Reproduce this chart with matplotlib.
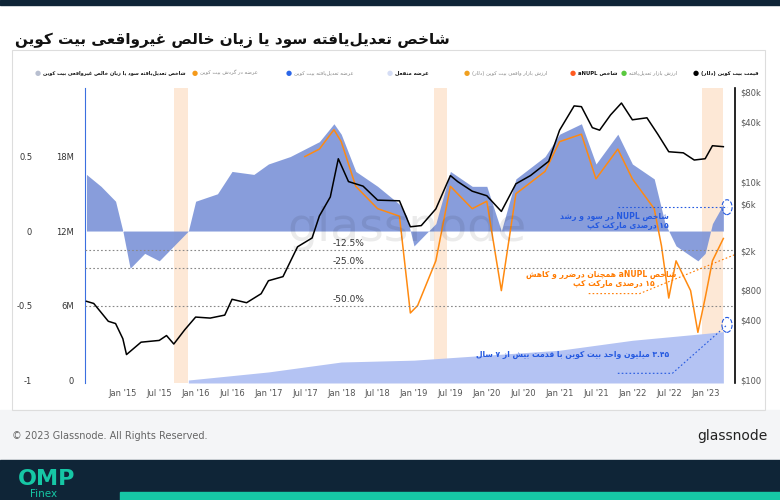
import matplotlib
matplotlib.use("Agg")
import matplotlib.pyplot as plt
import numpy as np
from matplotlib.patches import Rectangle, Ellipse

# ---------- simple Persian shaping ----------
F = {
 'ا':('\uFE8D','\uFE8E'),'آ':('\uFE81','\uFE82'),'د':('\uFEA9','\uFEAA'),'ذ':('\uFEAB','\uFEAC'),
 'ر':('\uFEAD','\uFEAE'),'ز':('\uFEAF','\uFEB0'),'ژ':('\uFB8A','\uFB8B'),'و':('\uFEED','\uFEEE'),
 'ب':('\uFE8F','\uFE90','\uFE91','\uFE92'),'پ':('\uFB56','\uFB57','\uFB58','\uFB59'),
 'ت':('\uFE95','\uFE96','\uFE97','\uFE98'),'ث':('\uFE99','\uFE9A','\uFE9B','\uFE9C'),
 'ج':('\uFE9D','\uFE9E','\uFE9F','\uFEA0'),'چ':('\uFB7A','\uFB7B','\uFB7C','\uFB7D'),
 'ح':('\uFEA1','\uFEA2','\uFEA3','\uFEA4'),'خ':('\uFEA5','\uFEA6','\uFEA7','\uFEA8'),
 'س':('\uFEB1','\uFEB2','\uFEB3','\uFEB4'),'ش':('\uFEB5','\uFEB6','\uFEB7','\uFEB8'),
 'ص':('\uFEB9','\uFEBA','\uFEBB','\uFEBC'),'ض':('\uFEBD','\uFEBE','\uFEBF','\uFEC0'),
 'ط':('\uFEC1','\uFEC2','\uFEC3','\uFEC4'),'ظ':('\uFEC5','\uFEC6','\uFEC7','\uFEC8'),
 'ع':('\uFEC9','\uFECA','\uFECB','\uFECC'),'غ':('\uFECD','\uFECE','\uFECF','\uFED0'),
 'ف':('\uFED1','\uFED2','\uFED3','\uFED4'),'ق':('\uFED5','\uFED6','\uFED7','\uFED8'),
 'ک':('\uFB8E','\uFB8F','\uFB90','\uFB91'),'گ':('\uFB92','\uFB93','\uFB94','\uFB95'),
 'ل':('\uFEDD','\uFEDE','\uFEDF','\uFEE0'),'م':('\uFEE1','\uFEE2','\uFEE3','\uFEE4'),
 'ن':('\uFEE5','\uFEE6','\uFEE7','\uFEE8'),'ه':('\uFEE9','\uFEEA','\uFEEB','\uFEEC'),
 'ی':('\uFBFC','\uFBFD','\uFBFE','\uFBFF'),
}
def shape_word(w):
    out = []
    for i, c in enumerate(w):
        if c not in F:
            if c != '\u200c':
                out.append(c)
            continue
        p = w[i-1] if i > 0 else ''
        n = w[i+1] if i+1 < len(w) else ''
        jp = p in F and len(F[p]) == 4
        jn = n in F and len(F[c]) == 4
        f = F[c]
        if jp and jn: out.append(f[3])
        elif jp: out.append(f[1])
        elif jn: out.append(f[2])
        else: out.append(f[0])
    s = ''.join(out)[::-1]
    return s.translate(str.maketrans('()', ')('))
def fa(t):
    words = t.split(' ')
    res = []
    for w in words:
        if any(c in F for c in w):
            res.append(shape_word(w))
        else:
            res.append(w)
    return ' '.join(res[::-1])

# ---------- data ----------
price_t = [2014.5,2014.6,2014.7,2014.8,2014.9,2015.0,2015.05,2015.25,2015.5,2015.6,2015.7,2015.85,2016.0,2016.2,2016.4,2016.5,
           2016.7,2016.9,2017.0,2017.2,2017.4,2017.6,2017.7,2017.85,2017.96,2018.1,2018.3,2018.5,2018.8,2018.95,2019.1,2019.3,
           2019.5,2019.6,2019.8,2020.0,2020.2,2020.4,2020.6,2020.85,2021.0,2021.2,2021.3,2021.45,2021.55,2021.7,2021.85,2022.0,
           2022.2,2022.35,2022.5,2022.7,2022.85,2023.0,2023.1,2023.25]
price = [620,590,480,390,370,260,180,240,250,280,230,320,430,420,450,650,600,740,1000,1100,2200,2700,4500,7000,17000,10000,
         9000,6500,6400,3500,3600,5300,11500,10000,8000,7200,5000,9500,11500,16000,33000,58000,57000,35000,33000,47000,62000,
         42000,44000,30000,20000,19500,16500,17000,23000,22500]

nupl_t = [2014.5,2014.7,2014.9,2015.0,2015.1,2015.3,2015.5,2015.7,2015.9,2016.0,2016.3,2016.5,2016.8,2017.0,2017.3,2017.5,
          2017.7,2017.9,2018.0,2018.2,2018.5,2018.8,2018.9,2019.0,2019.3,2019.5,2019.8,2020.0,2020.2,2020.4,2020.8,2021.0,
          2021.3,2021.5,2021.8,2022.0,2022.3,2022.45,2022.6,2022.9,2023.0,2023.1,2023.25]
nupl = [0.38,0.3,0.2,0.0,-0.25,-0.15,-0.2,-0.1,0.0,0.2,0.25,0.4,0.38,0.45,0.5,0.55,0.6,0.72,0.65,0.4,0.3,0.18,0.1,-0.1,
        0.05,0.4,0.3,0.3,0.0,0.35,0.5,0.65,0.72,0.45,0.65,0.45,0.35,0.05,-0.1,-0.2,-0.15,0.05,0.18]

anupl_t = [2017.5,2017.7,2017.9,2018.0,2018.2,2018.5,2018.8,2018.95,2019.05,2019.3,2019.5,2019.8,2020.0,2020.2,2020.4,
           2020.8,2021.0,2021.3,2021.5,2021.8,2022.0,2022.3,2022.4,2022.5,2022.6,2022.8,2022.9,2023.0,2023.1,2023.25]
anupl = [0.5,0.55,0.68,0.6,0.3,0.15,0.1,-0.55,-0.5,-0.2,0.3,0.15,0.2,-0.4,0.25,0.4,0.6,0.65,0.35,0.55,0.35,0.15,-0.1,
         -0.45,-0.2,-0.4,-0.68,-0.45,-0.2,-0.05]

supply_t = [2015.9,2017.0,2018.0,2019.0,2020.0,2021.0,2022.0,2023.0,2023.25]
supply_m = [0.0,0.65,1.45,1.6,2.0,2.4,3.2,3.75,3.9]

shade_periods = [(2015.7, 2015.9), (2019.27, 2019.46), (2022.95, 2023.25)]
levels = [-0.125, -0.25, -0.5]
level_labels = ['-12.5%', '-25.0%', '-50.0%']
xtick_labels = ["Jan '15","Jul '15","Jan '16","Jul '16","Jan '17","Jul '17","Jan '18","Jul '18","Jan '19","Jul '19",
                "Jan '20","Jul '20","Jan '21","Jul '21","Jan '22","Jul '22","Jan '23"]
price_ticks = [100,400,800,2000,6000,10000,40000,80000]
price_tick_labels = ['$100','$400','$800','$2k','$6k','$10k','$40k','$80k']

# ---------- figure ----------
W, H = 780, 500
fig = plt.figure(figsize=(W/100, H/100), dpi=100)
plt.rcParams['font.family'] = 'DejaVu Sans'

def px(x0, y0, x1, y1):
    return [x0/W, 1-y1/H, (x1-x0)/W, (y1-y0)/H]

fig.add_artist(Rectangle((0, 1-5/H), 1, 5/H, transform=fig.transFigure, color='#0f2537'))
fig.add_artist(Rectangle((0, 40/H), 1, 50/H, transform=fig.transFigure, color='#f4f5f7', zorder=-1))
fig.add_artist(Rectangle((0, 0), 1, 40/H, transform=fig.transFigure, color='#0f2537'))
fig.add_artist(Rectangle((120/W, 0), 1, 8/H, transform=fig.transFigure, color='#16c7a5'))
fig.add_artist(Rectangle((12/W, 1-410/H), 753/W, 360/H, transform=fig.transFigure, fill=False, ec='#dddddd', lw=0.8))
fig.text(18/W, 1-479/H, 'OMP', color='#16c7a5', fontsize=16, fontweight='bold', va='center')
fig.text(30/W, 1-494/H, 'Finex', color='#16c7a5', fontsize=7.5, va='center')
fig.text(12/W, 1-436/H, '© 2023 Glassnode. All Rights Reserved.', color='#666666', fontsize=7, va='center')
fig.text(768/W, 1-436/H, 'glassnode', color='#222222', fontsize=10, va='center', ha='right')
fig.text(15/W, 1-40/H, fa('شاخص تعدیل‌یافته سود یا زیان خالص غیرواقعی بیت کوین'), fontsize=11,
         fontweight='bold', ha='left', va='center', color='#111111')

legend = [(696,'#000000','قیمت بیت کوین (دلار)',True),(624,'#5ac93f','ارزش بازار تعدیل‌یافته',False),
          (573,'#ff5a1f','شاخص aNUPL',True),(467,'#f0a020','ارزش بازار واقعی بیت کوین (دلار)',False),
          (390,'#d5ddf5','عرضه منفعل',True),(289,'#2b66e8','عرضه تعدیل‌یافته بیت کوین',False),
          (195,'#f59a1a','عرضه در گردش بیت کوین',False),(38,'#b8bfd0','شاخص تعدیل‌یافته سود یا زیان خالص غیرواقعی بیت کوین',True)]
for x, c, t, b in legend:
    fig.text(x/W, 1-73/H, '●', color=c, fontsize=5, ha='center', va='center')
    fig.text((x+5)/W, 1-73/H, fa(t), fontsize=3.8 if x > 100 else 3.6, ha='left', va='center',
             color='#111111' if b else '#888888', fontweight='bold' if b else 'normal')

ax = fig.add_axes(px(85, 88, 735, 383))
ax.set_xlim(2014.48, 2023.41)
ax.set_ylim(-1.02, 0.96)
for s in ['top', 'left', 'bottom', 'right']:
    ax.spines[s].set_visible(False)

for a, b in shade_periods:
    ax.axvspan(a, b, color='#fde3cc', alpha=0.8, lw=0, zorder=0)

tt = np.array(nupl_t); nv = np.array(nupl)
ax.fill_between(tt, 0, nv, color='#7b93d8', lw=0, alpha=0.9, zorder=1)
st = np.array(supply_t); sv = (np.array(supply_m) - 12) / 12
ax.fill_between(st, -1.02, sv, color='#b4c3f3', lw=0, zorder=1)
ax.plot(anupl_t, anupl, color='#ff8a10', lw=1.1, zorder=2)

for lv, lb in zip(levels, level_labels):
    ax.axhline(lv, color='#888888', ls=(0, (1.5, 2)), lw=0.8, zorder=3)
    ax.text(2018.1, lv + 0.012, lb, fontsize=6.5, color='#333333', ha='center', va='bottom', zorder=6)

ticks_x = [2015 + i*0.5 for i in range(len(xtick_labels))]
ax.set_xticks(ticks_x)
ax.set_xticklabels(xtick_labels, fontsize=6, color='#555555')
ax.tick_params(axis='x', length=0, pad=4)
ax.set_yticks([-1, -0.5, 0, 0.5])
ax.set_yticklabels(['-1', '-0.5', '0', '0.5'], fontsize=6, color='#333333')
ax.tick_params(axis='y', length=0, pad=38)
sec = ax.secondary_yaxis('left', functions=(lambda n: 12 + 12*n, lambda s: (s - 12)/12))
sec.set_yticks([0, 6, 12, 18])
sec.set_yticklabels(['0', '6M', '12M', '18M'], fontsize=6, color='#333333')
sec.tick_params(length=0, pad=8)
sec.spines['left'].set_color('#3b6fe0')
sec.spines['left'].set_linewidth(0.8)

ax.text(2018.9, 0.02, 'glassnode', fontsize=34, color='#000000', alpha=0.08, ha='center', va='center')

axp = ax.twinx()
axp.set_yscale('log')
axp.set_ylim(93, 87900)
axp.plot(price_t, price, color='#000000', lw=1.1, zorder=4)
axp.set_yticks(price_ticks)
axp.set_yticklabels(price_tick_labels, fontsize=6, color='#555555')
axp.minorticks_off()
axp.tick_params(axis='y', length=0, pad=4)
for s in ['top', 'left', 'bottom']:
    axp.spines[s].set_visible(False)
axp.spines['right'].set_linewidth(1.2)

blue = '#2459e0'; org = '#ff7a00'
ax.plot([2021.8, 2023.3], [0.16, 0.16], color=blue, ls=(0, (1.5, 2)), lw=0.8, zorder=5)
ax.add_patch(Ellipse((2023.3, 0.16), 0.14, 0.1, fill=False, ec=blue, ls='--', lw=0.8, zorder=5))
ax.text(2022.5, 0.095, fa('شاخص NUPL در سود و رشد'), fontsize=5.5, color=blue, ha='right', va='center', fontweight='bold', zorder=6)
ax.text(2022.5, 0.035, fa('۱۵ درصدی مارکت کپ'), fontsize=5.5, color=blue, ha='right', va='center', fontweight='bold', zorder=6)
ax.plot([2021.4, 2022.1, 2023.4], [-0.42, -0.42, -0.16], color=org, ls=(0, (1.5, 2)), lw=0.8, zorder=5)
ax.text(2022.6, -0.29, fa('شاخص aNUPL همچنان درضرر و کاهش'), fontsize=5.5, color=org, ha='right', va='center', fontweight='bold', zorder=6)
ax.text(2022.3, -0.355, fa('۱۵ درصدی مارکت کپ'), fontsize=5.5, color=org, ha='right', va='center', fontweight='bold', zorder=6)
ax.plot([2021.8, 2022.55, 2023.3], [-0.955, -0.955, -0.63], color=blue, ls=(0, (1.5, 2)), lw=0.8, zorder=5)
ax.add_patch(Ellipse((2023.3, -0.63), 0.14, 0.1, fill=False, ec=blue, ls='--', lw=0.8, zorder=5))
ax.text(2022.5, -0.83, fa('۳.۴۵ میلیون واحد بیت کوین با قدمت بیش از ۷ سال'), fontsize=5.5, color=blue, ha='right', va='center', fontweight='bold', zorder=6)

fig.savefig('out.png', dpi=100)
